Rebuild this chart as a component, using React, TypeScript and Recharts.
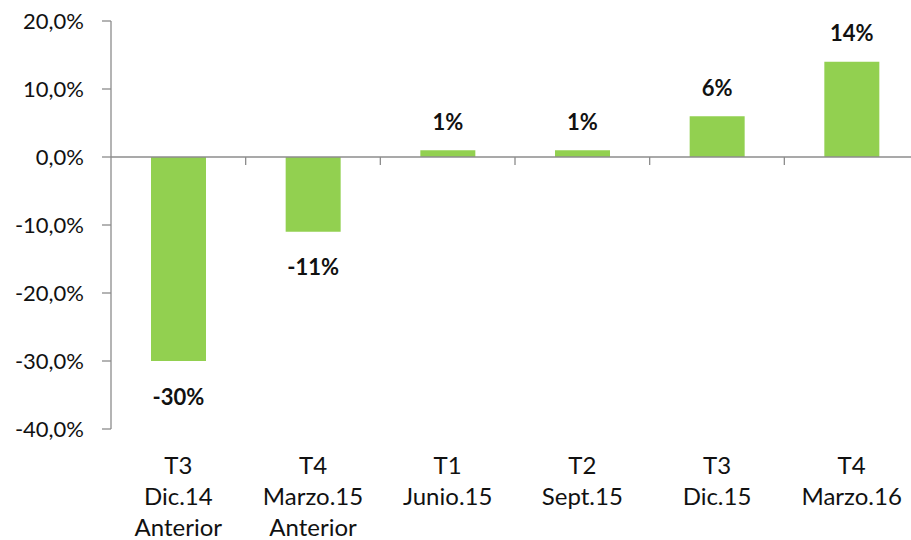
import { BarChart, Bar, XAxis, YAxis, ReferenceLine, LabelList } from "recharts";

const periods = ["T3", "T4", "T1", "T2", "T3", "T4"];
const months = ["Dic.14", "Marzo.15", "Junio.15", "Sept.15", "Dic.15", "Marzo.16"];
const notes = ["Anterior", "Anterior", "", "", "", ""];
const changes = [-30, -11, 1, 1, 6, 14];
const yTicks = [20, 10, 0, -10, -20, -30, -40];

const FONT = "Lato, 'Open Sans', sans-serif";
const GREEN = "#92D050";
const AXIS = "#8C8C8C";

const data = periods.map((p, i) => ({
  key: String(i),
  lines: [p, months[i], notes[i]].filter(Boolean),
  value: changes[i],
}));

function CategoryTick(props: any) {
  const { x, y, payload } = props;
  const row = data[Number(payload.value)];
  return (
    <g>
      {row.lines.map((t, i) => (
        <text
          key={i}
          x={x}
          y={y + 45 + i * 31}
          textAnchor="middle"
          fontSize={24}
          fontFamily={FONT}
          fill="#111"
        >
          {t}
        </text>
      ))}
    </g>
  );
}

// value label: above positive bars, below negative ones
function ValueLabel(props: any) {
  const { x, y, width, height, value } = props;
  const top = Math.min(y, y + height);
  const bottom = Math.max(y, y + height);
  const cy = value >= 0 ? top - 29 : bottom + 35;
  return (
    <text
      x={x + width / 2}
      y={cy}
      textAnchor="middle"
      dominantBaseline="central"
      fontSize={22}
      fontWeight={700}
      fontFamily={FONT}
      fill="#111"
    >
      {`${value}%`}
    </text>
  );
}

// zero line with small ticks between categories
function ZeroLine(props: any) {
  const { x1, y1, x2 } = props;
  const step = (x2 - x1) / data.length;
  return (
    <g>
      <line x1={x1} y1={y1} x2={x2} y2={y1} stroke={AXIS} strokeWidth={1.3} />
      {data.map((_, i) => (
        <line
          key={i}
          x1={x1 + step * (i + 1)}
          y1={y1}
          x2={x1 + step * (i + 1)}
          y2={y1 + 8}
          stroke={AXIS}
          strokeWidth={1.3}
        />
      ))}
    </g>
  );
}

export default function App() {
  return (
    <div
      style={{
        position: "absolute",
        left: 0,
        top: 0,
        width: 911,
        height: 540,
        overflow: "hidden",
        background: "#fff",
      }}
    >
      <BarChart
        width={919}
        height={540}
        data={data}
        margin={{ top: 21, right: 0, left: 0, bottom: 0 }}
      >
        <XAxis
          dataKey="key"
          height={111}
          axisLine={false}
          tickLine={false}
          tickSize={0}
          tickMargin={0}
          interval={0}
          tick={<CategoryTick />}
        />
        <YAxis
          width={111}
          domain={[-40, 20]}
          ticks={yTicks}
          interval={0}
          tickSize={9}
          tickMargin={18}
          axisLine={{ stroke: AXIS, strokeWidth: 1.3 }}
          tickLine={{ stroke: AXIS, strokeWidth: 1.3 }}
          tick={{ fontSize: 22, fontFamily: FONT, fill: "#111" }}
          tickFormatter={(v: number) => `${v.toFixed(1).replace(".", ",")}%`}
        />
        <ReferenceLine y={0} shape={ZeroLine} />
        <Bar dataKey="value" fill={GREEN} barSize={55} isAnimationActive={false}>
          <LabelList dataKey="value" content={<ValueLabel />} />
        </Bar>
      </BarChart>
    </div>
  );
}
